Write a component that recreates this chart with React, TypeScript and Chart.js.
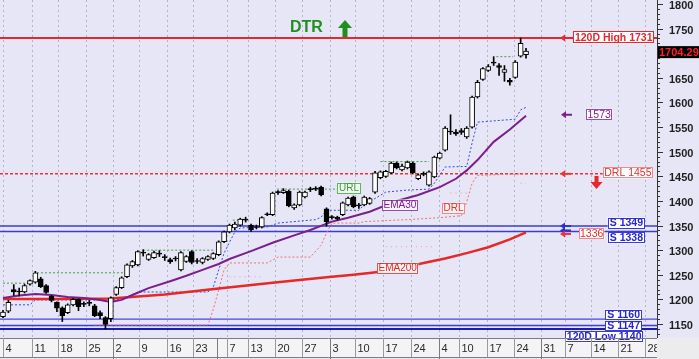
import React, { useEffect, useRef } from "react";
import { Chart, registerables } from "chart.js";

Chart.register(...registerables);

const FONT = '"Liberation Sans", Arial, Helvetica, sans-serif';

// ---- candles (trading-day index 0..97) ----
const opens = [1165,1176,1220,1217,1215,1231,1235,1242,1228,1206,1194,1183,1173,1189,1200,1192,1194,1187,1173,1163,1161,1210,1224,1246,1268,1270,1296,1281,1285,1294,1287,1281,1284,1260,1277,1297,1279,1275,1281,1283,1291,1317,1337,1345,1351,1363,1351,1348,1347,1374,1372,1419,1417,1420,1386,1392,1408,1425,1426,1428,1384,1368,1367,1372,1392,1408,1392,1392,1395,1418,1447,1450,1457,1477,1463,1467,1477,1445,1456,1432,1449,1487,1503,1542,1540,1543,1530,1550,1611,1647,1665,1682,1675,1661,1645,1651,1694,1697];
const highs = [1178,1198,1230,1223,1231,1240,1257,1245,1230,1208,1195,1185,1191,1202,1201,1195,1198,1190,1177,1165,1205,1226,1246,1272,1279,1299,1301,1293,1298,1299,1291,1284,1287,1297,1289,1299,1283,1285,1289,1295,1319,1339,1353,1357,1365,1367,1353,1351,1368,1376,1418,1421,1425,1422,1394,1420,1420,1428,1429,1430,1386,1370,1369,1398,1408,1410,1395,1410,1407,1460,1461,1462,1479,1479,1475,1481,1479,1455,1459,1461,1491,1499,1551,1575,1545,1547,1551,1613,1645,1671,1677,1693,1679,1675,1649,1685,1731,1710];
const lows = [1163,1173,1208,1207,1213,1229,1233,1224,1212,1195,1175,1155,1171,1187,1177,1185,1187,1165,1161,1140,1155,1208,1222,1244,1265,1268,1288,1279,1283,1287,1279,1273,1278,1258,1275,1272,1273,1272,1279,1281,1289,1315,1335,1341,1349,1357,1338,1343,1345,1370,1370,1413,1415,1388,1383,1390,1406,1419,1421,1410,1349,1363,1361,1370,1390,1386,1385,1390,1393,1415,1445,1448,1455,1465,1461,1465,1455,1443,1451,1430,1447,1485,1501,1535,1533,1535,1527,1548,1609,1645,1663,1675,1655,1643,1635,1649,1692,1690];
const closes = [1174,1194,1215,1215,1228,1238,1254,1226,1214,1198,1182,1167,1189,1200,1185,1190,1192,1167,1167,1149,1203,1224,1244,1270,1277,1297,1294,1291,1295,1292,1285,1276,1282,1295,1287,1275,1277,1283,1287,1293,1317,1337,1351,1353,1363,1361,1341,1346,1366,1372,1416,1417,1421,1390,1392,1418,1418,1423,1424,1412,1358,1366,1363,1396,1406,1388,1390,1408,1405,1457,1459,1460,1477,1467,1471,1479,1457,1453,1454,1459,1489,1497,1548,1540,1536,1539,1548,1611,1641,1669,1673,1680,1671,1667,1641,1682,1720,1704.29];

// ---- x axis (week ticks, in trading-day index units) ----
const weekTicks = [0,5.38,10.2,15.39,20.4,25.22,30.42,35.24,41.54,45.44,50.45,55.45,60.65,65.28,70.47,75.67,80.86,84.57,89.76,94.77,99.78,104.23,109.05,114.06,119.07];
const weekLabels = ["4","11","18","25","2","9","16","23","7","13","20","27","3","10","17","24","4","10","17","24","31","7","14","21","28"];
const monthSeps = [20.4,39.7,60.65,80.86,99.78];

// ---- y axis ----
const priceTicks = [1150,1200,1250,1300,1350,1400,1450,1500,1550,1600,1650,1700,1750,1800];

// ---- indicator lines ----
const ema30Idx = [0,3,6,9,12,15,18,20,22,24,27,31,34,37,40,42,46,50,54,57,61,64,68,73,77,81,84,86,88,91,94,97];
const ema30Val = [1203,1208,1211,1209,1205,1203,1199,1195,1199,1209,1223,1237,1248,1260,1272,1282,1298,1315,1330,1341,1358,1366,1378,1400,1412,1428,1445,1462,1483,1520,1545,1573];
const ema200Idx = [0,10,20,30,40,50,60,65,70,74,78,82,86,90,94,97];
const ema200Val = [1201,1201,1202,1210,1222,1234,1245,1250,1256,1264,1274,1283,1294,1306,1322,1336];
const urlIdx = [0,5,6,21,23,25,38,39,40,41,42,43,44,49,51,58,59,60,66,67,71,75,79,80,82,86,87,88,95,96,97];
const urlVal = [1189,1189,1199,1199,1205,1215,1215,1225,1260,1294,1316,1337,1345,1347,1355,1362,1367,1381,1381,1392,1418,1422,1424,1436,1469,1470,1518,1560,1566,1585,1590];
const drlIdx = [17,38,39,40,41,42,49,51,57,59,60,61,66,67,75,81,85,86,87,88,97];
const drlVal = [1148,1148,1180,1219,1260,1274,1274,1286,1286,1310,1335,1355,1355,1358,1362,1366,1370,1398,1436,1452,1455];
const drl2Idx = [42,48,49,71,80,81,83,86,87,96,97];
const drl2Val = [1246,1246,null,1307,1307,null,1416,1416,null,1436,1436];
const greenIdx = [0,5.6,6,6.3,22.3,23,26,39,40,42.6,45.4,46,50.8,62,63,70,79,80,91.5,94.6];
const greenVal = [1233,1233,null,1254,1254,null,1300,1300,null,1361,1361,null,1424,1424,null,1480,1480,null,1693,1693];

// ---- levels ----
const high120 = 1731;
const low120 = 1140;
const drlLevel = 1455;
const supportHigh = [1349, 1338];
const supportLow = [1160, 1147];
const lastClose = 1704.29;
const ema30Last = 1573;
const ema200Last = 1336;

function pts(idx: number[], val: (number | null)[]) {
  return idx.map((x, i) => ({ x, y: val[i] }));
}

function drawBox(ctx: any, text: string, x: number, yc: number, o: any) {
  const size = o.size || 10;
  ctx.font = `${o.bold ? "bold " : ""}${size}px ${FONT}`;
  const padX = o.padX ?? 2;
  const h = o.h || 11;
  const tw = ctx.measureText(text).width;
  const w = o.w || tw + padX * 2;
  const left = o.alignRight ? x - w : x;
  ctx.fillStyle = o.bg;
  ctx.fillRect(left, yc - h / 2, w, h);
  if (o.border) {
    ctx.strokeStyle = o.border;
    ctx.lineWidth = 1;
    ctx.strokeRect(Math.round(left) + 0.5, Math.round(yc - h / 2) + 0.5, Math.round(w) - 1, h - 1);
  }
  ctx.fillStyle = o.fg;
  ctx.textAlign = "center";
  ctx.textBaseline = "middle";
  ctx.fillText(text, left + w / 2, yc + 0.5);
}

function leftArrow(ctx: any, x: number, y: number, color: string) {
  ctx.fillStyle = color;
  ctx.beginPath();
  ctx.moveTo(x, y);
  ctx.lineTo(x + 5, y - 3.5);
  ctx.lineTo(x + 5, y + 3.5);
  ctx.closePath();
  ctx.fill();
  ctx.fillRect(x + 4, y - 1, 7, 2);
}

export default function App() {
  const ref = useRef<HTMLCanvasElement>(null);

  useEffect(() => {
    const canvas = ref.current as HTMLCanvasElement;
    const idx = opens.map((_, i) => i);
    const wickData = idx.map((i) => ({ x: i, y: [lows[i], highs[i]] }));
    const bodyData = idx.map((i) => ({ x: i, y: [opens[i], closes[i]] }));
    const bodyColors = idx.map((i) => (closes[i] >= opens[i] ? "#ffffff" : "#000000"));

    const decor = {
      id: "decor",
      beforeDraw(chart: any) {
        const { ctx, chartArea } = chart;
        const { right, top, bottom } = chartArea;
        const xs = chart.scales.x;
        ctx.save();
        ctx.fillStyle = "#e6e6f6";
        ctx.fillRect(0, 0, chart.width, chart.height);
        ctx.fillStyle = "#f4f4f7";
        ctx.fillRect(0, bottom, right, 19);
        ctx.fillStyle = "#e9e9ee";
        ctx.fillRect(0, bottom + 19, chart.width, chart.height - bottom - 19);
        ctx.fillStyle = "#ececee";
        ctx.fillRect(right, bottom, chart.width - right, chart.height - bottom);
        ctx.strokeStyle = "#b3b3c9";
        ctx.lineWidth = 1;
        ctx.setLineDash([2, 3]);
        weekTicks.forEach((t) => {
          const px = Math.round(xs.getPixelForValue(t)) + 0.5;
          ctx.beginPath();
          ctx.moveTo(px, top);
          ctx.lineTo(px, bottom);
          ctx.stroke();
        });
        ctx.setLineDash([]);
        ctx.restore();
      },
      beforeDatasetsDraw(chart: any) {
        const { ctx, chartArea } = chart;
        const { left, right } = chartArea;
        const ys = chart.scales.y;
        const hline = (v: number, color: string, w: number, dash: number[], x0: number, x1: number) => {
          const py = ys.getPixelForValue(v);
          ctx.strokeStyle = color;
          ctx.lineWidth = w;
          ctx.setLineDash(dash);
          ctx.beginPath();
          ctx.moveTo(x0, py);
          ctx.lineTo(x1, py);
          ctx.stroke();
        };
        ctx.save();
        hline(high120, "#e8262c", 2, [], left, right);
        hline(drlLevel, "#ee3333", 1.5, [3, 2], left, 606);
        supportHigh.forEach((v) => hline(v, "#3a3ade", 1.5, [], left, right));
        hline(supportLow[0], "#4646e2", 1.2, [], left, right);
        hline(supportLow[1], "#3a3ade", 1.5, [], left, right);
        hline(low120, "#1c1cae", 2, [], left, right);
        ctx.setLineDash([]);
        ctx.restore();
      },
      afterDatasetsDraw(chart: any) {
        const { ctx, chartArea } = chart;
        const { right, bottom } = chartArea;
        const xs = chart.scales.x;
        const ys = chart.scales.y;
        ctx.save();

        drawBox(ctx, "URL", 337, 188, { fg: "#3a9a3a", border: "#5cb85c", bg: "#f2fbf2", size: 10, padX: 2 });
        drawBox(ctx, "EMA30", 382, 205, { fg: "#7d1f8e", border: "#9a4aa8", bg: "#f7f2f8", size: 10, padX: 1.5 });
        drawBox(ctx, "DRL", 442, 208, { fg: "#e03030", border: "#f08a8a", bg: "#fbf3f3", size: 10, padX: 1.5 });
        drawBox(ctx, "EMA200", 377, 268, { fg: "#e02828", border: "#e85050", bg: "#fbf3f3", size: 10, padX: 1.5 });

        ctx.fillStyle = "#1f8f1f";
        ctx.font = `bold 16px ${FONT}`;
        ctx.textAlign = "left";
        ctx.textBaseline = "alphabetic";
        ctx.fillText("DTR", 290, 32);
        ctx.beginPath();
        ctx.moveTo(345, 20);
        ctx.lineTo(352, 28);
        ctx.lineTo(338, 28);
        ctx.closePath();
        ctx.fill();
        ctx.fillRect(342.5, 27, 5, 10);

        leftArrow(ctx, 560, ys.getPixelForValue(high120), "#e8262c");
        leftArrow(ctx, 561, ys.getPixelForValue(ema30Last) - 1, "#7d1f8e");
        leftArrow(ctx, 560, ys.getPixelForValue(drlLevel), "#ee3333");
        leftArrow(ctx, 560, ys.getPixelForValue(supportHigh[0]), "#2f2fd8");
        leftArrow(ctx, 560, ys.getPixelForValue(supportHigh[1]) - 1, "#2f2fd8");
        leftArrow(ctx, 560, ys.getPixelForValue(ema200Last) + 1.5, "#ee3333");
        ctx.fillStyle = "#e8262c";
        ctx.fillRect(594.5, 176, 4, 7);
        ctx.beginPath();
        ctx.moveTo(590.5, 182);
        ctx.lineTo(602.5, 182);
        ctx.lineTo(596.5, 189);
        ctx.closePath();
        ctx.fill();

        drawBox(ctx, "120D High " + high120, 654, ys.getPixelForValue(high120) - 0.5, { fg: "#e8262c", border: "#e8262c", bg: "#ffffff", bold: true, size: 10.5, padX: 1.5, alignRight: true, h: 12 });
        drawBox(ctx, String(ema30Last), 586, ys.getPixelForValue(ema30Last) - 1.5, { fg: "#7d1f8e", border: "#9a4aa8", bg: "#ffffff", size: 10.5, padX: 1.5, h: 11 });
        drawBox(ctx, "DRL " + drlLevel, 653, ys.getPixelForValue(drlLevel) - 1, { fg: "#e03030", border: "#f08a8a", bg: "#ffffff", size: 10.5, padX: 1.5, alignRight: true, h: 11 });
        drawBox(ctx, "S " + supportHigh[0], 645, ys.getPixelForValue(supportHigh[0]) - 3, { fg: "#2626d6", border: "#3a3ade", bg: "#ffffff", bold: true, size: 10.5, padX: 2, alignRight: true });
        drawBox(ctx, "S " + supportHigh[1], 645, ys.getPixelForValue(supportHigh[1]) + 6.5, { fg: "#2626d6", border: "#3a3ade", bg: "#ffffff", bold: true, size: 10.5, padX: 2, alignRight: true });
        drawBox(ctx, String(ema200Last), 579, ys.getPixelForValue(ema200Last) + 1, { fg: "#e03030", border: "#f08a8a", bg: "#ffffff", size: 10.5, padX: 1 });
        drawBox(ctx, "S " + supportLow[0], 642, ys.getPixelForValue(supportLow[0]) - 4.5, { fg: "#2626d6", border: "#3a3ade", bg: "#ffffff", bold: true, size: 10.5, padX: 2, alignRight: true, h: 10 });
        drawBox(ctx, "S " + supportLow[1], 642, ys.getPixelForValue(supportLow[1]) + 0.5, { fg: "#2626d6", border: "#3a3ade", bg: "#ffffff", bold: true, size: 10.5, padX: 2, alignRight: true, h: 10 });
        drawBox(ctx, "120D Low " + low120, 643, ys.getPixelForValue(low120) + 8, { fg: "#2626d6", border: "#3a3ade", bg: "#ffffff", bold: true, size: 10.5, padX: 1.5, alignRight: true, h: 11 });

        ctx.strokeStyle = "#333333";
        ctx.lineWidth = 1;
        ctx.beginPath();
        ctx.moveTo(right + 0.5, 0);
        ctx.lineTo(right + 0.5, bottom);
        ctx.stroke();
        for (let v = 1130; v <= 1800; v += 10) {
          const py = Math.round(ys.getPixelForValue(v)) + 0.5;
          const len = v % 50 === 0 ? 6 : 3;
          ctx.beginPath();
          ctx.moveTo(right, py);
          ctx.lineTo(right + len, py);
          ctx.stroke();
        }
        ctx.fillStyle = "#1e1e1e";
        ctx.font = `bold 11px ${FONT}`;
        ctx.textAlign = "left";
        ctx.textBaseline = "middle";
        priceTicks.forEach((v) => {
          ctx.fillText(String(v), right + 12, ys.getPixelForValue(v) + 2);
        });

        const lp = ys.getPixelForValue(lastClose) + 1;
        ctx.fillStyle = "#000000";
        ctx.fillRect(right + 1, lp - 6, chart.width - right - 1, 12);
        ctx.fillStyle = "#ff2020";
        ctx.font = `bold 11px ${FONT}`;
        ctx.fillText(String(lastClose), right + 2, lp + 0.5);

        ctx.save();
        ctx.beginPath();
        ctx.rect(0, bottom, right, chart.height - bottom);
        ctx.clip();
        ctx.strokeStyle = "#7c7c7c";
        ctx.beginPath();
        ctx.moveTo(0, bottom + 0.5);
        ctx.lineTo(right, bottom + 0.5);
        ctx.moveTo(0, bottom + 19.5);
        ctx.lineTo(right, bottom + 19.5);
        ctx.stroke();
        ctx.strokeStyle = "#9a9a9a";
        ctx.font = `11px ${FONT}`;
        ctx.fillStyle = "#2a2a2a";
        ctx.textAlign = "left";
        ctx.textBaseline = "middle";
        weekTicks.forEach((t, i) => {
          const px = Math.round(xs.getPixelForValue(t)) + 0.5;
          ctx.beginPath();
          ctx.moveTo(px, bottom);
          ctx.lineTo(px, bottom + 19);
          ctx.stroke();
          ctx.fillText(weekLabels[i], px + 2, bottom + 11);
        });
        ctx.strokeStyle = "#7c7c7c";
        monthSeps.forEach((t) => {
          const px = Math.round(xs.getPixelForValue(t)) + 0.5;
          ctx.beginPath();
          ctx.moveTo(px, bottom);
          ctx.lineTo(px, chart.height);
          ctx.stroke();
        });
        ctx.restore();

        ctx.restore();
      },
    };

    const chart = new Chart(canvas, {
      type: "line",
      data: {
        datasets: [
          { type: "bar", label: "wick", data: wickData as any, backgroundColor: "#000000", borderWidth: 0, barThickness: 1, grouped: false, order: 1 } as any,
          { type: "bar", label: "body", data: bodyData as any, backgroundColor: bodyColors, borderColor: "#000000", borderWidth: 1, borderSkipped: false, barThickness: 5, grouped: false, order: 0 } as any,
          { label: "EMA30", data: pts(ema30Idx, ema30Val), borderColor: "#7b1f8c", borderWidth: 2, pointRadius: 0, order: 3 },
          { label: "EMA200", data: pts(ema200Idx, ema200Val), borderColor: "#e62828", borderWidth: 2.5, pointRadius: 0, order: 4 },
          { label: "URL", data: pts(urlIdx, urlVal), borderColor: "#3a48dc", borderWidth: 1, borderDash: [2, 2], pointRadius: 0, order: 5 },
          { label: "DRL", data: pts(drlIdx, drlVal), borderColor: "#f07272", borderWidth: 1, borderDash: [2, 2], pointRadius: 0, order: 6 },
          { label: "DRL2", data: pts(drl2Idx, drl2Val), borderColor: "#e89a9a", borderWidth: 1, borderDash: [1, 4], pointRadius: 0, spanGaps: false, order: 7 },
          { label: "Resistance", data: pts(greenIdx, greenVal), borderColor: "#4a9c4a", borderWidth: 1, borderDash: [2, 2], pointRadius: 0, spanGaps: false, order: 8 },
        ],
      },
      options: {
        animation: false,
        responsive: false,
        events: [],
        layout: { padding: 0 },
        plugins: { legend: { display: false }, tooltip: { enabled: false } },
        scales: {
          x: {
            type: "linear",
            min: -0.556,
            max: 121.29,
            offset: false,
            grid: { display: false },
            border: { display: false },
            ticks: { display: false },
            afterFit: (s: any) => { s.height = 21; },
          },
          y: {
            type: "linear",
            position: "right",
            min: 1121.6,
            max: 1808.1,
            grid: { display: false },
            border: { display: false },
            ticks: { display: false },
            afterFit: (s: any) => { s.width = 42; },
          },
        },
      } as any,
      plugins: [decor],
    });
    return () => chart.destroy();
  }, []);

  return (
    <div style={{ position: "fixed", left: 0, top: 0, width: 699, height: 359 }}>
      <canvas ref={ref} width={699} height={359} style={{ display: "block", width: 699, height: 359 }} />
    </div>
  );
}
